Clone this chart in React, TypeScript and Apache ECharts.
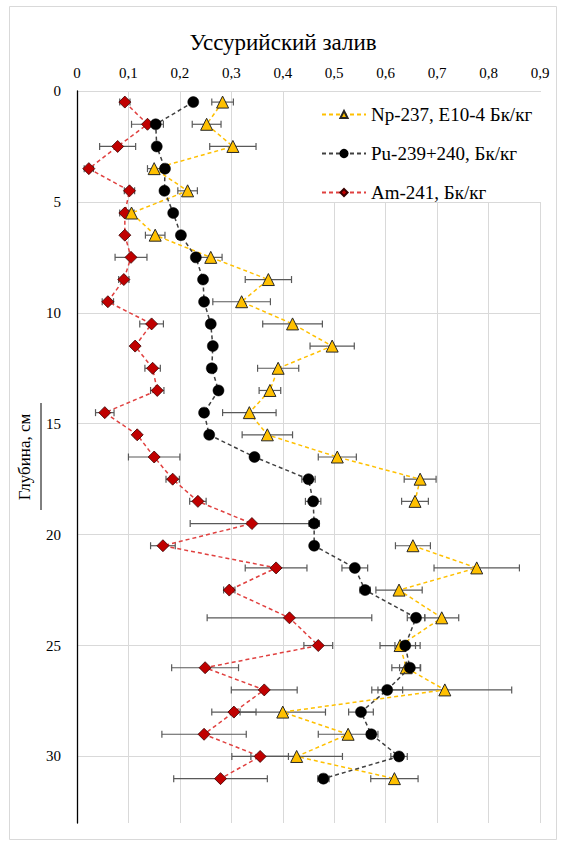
import React, { useEffect, useRef } from "react";
import * as echarts from "echarts";

const depths = [0.5, 1.5, 2.5, 3.5, 4.5, 5.5, 6.5, 7.5, 8.5, 9.5, 10.5, 11.5, 12.5, 13.5, 14.5, 15.5, 16.5, 17.5, 18.5, 19.5, 20.5, 21.5, 22.5, 23.75, 25, 26, 27, 28, 29, 30, 31];

const npValues = [0.283, 0.252, 0.303, 0.15, 0.215, 0.106, 0.152, 0.26, 0.372, 0.32, 0.419, 0.496, 0.391, 0.375, 0.335, 0.37, 0.506, 0.667, 0.657, null, 0.653, 0.777, 0.626, 0.709, 0.628, 0.64, 0.715, 0.4, 0.527, 0.427, 0.617];
const npErrors = [0.021, 0.028, 0.045, 0.013, 0.019, 0.005, 0.019, 0.022, 0.045, 0.056, 0.058, 0.043, 0.04, 0.021, 0.052, 0.049, 0.037, 0.031, 0.026, null, 0.034, 0.083, 0.045, 0.033, 0.039, 0.028, 0.13, 0.083, 0.058, 0.089, 0.046];

const puValues = [0.226, 0.153, 0.155, 0.171, 0.17, 0.187, 0.202, 0.231, 0.245, 0.247, 0.26, 0.264, 0.262, 0.275, 0.247, 0.257, 0.345, 0.45, 0.459, 0.461, 0.461, 0.54, 0.56, 0.659, 0.638, 0.647, 0.603, 0.552, 0.572, 0.626, 0.479];
const puErrors = [0.004, 0.004, 0.004, 0.004, 0.004, 0.004, 0.004, 0.004, 0.004, 0.004, 0.007, 0.006, 0.008, 0.006, 0.004, 0.006, 0.006, 0.013, 0.015, 0.01, 0.006, 0.025, 0.01, 0.017, 0.02, 0.02, 0.03, 0.024, 0.008, 0.016, 0.011];

const amValues = [0.093, 0.137, 0.079, 0.023, 0.102, 0.093, 0.093, 0.105, 0.091, 0.06, 0.145, 0.113, 0.147, 0.156, 0.054, 0.117, 0.15, 0.186, 0.235, 0.34, 0.167, 0.387, 0.296, 0.413, 0.469, 0.249, 0.364, 0.305, 0.247, 0.356, 0.279];
const amErrors = [0.01, 0.031, 0.035, 0.009, 0.01, 0.01, 0.003, 0.031, 0.01, 0.011, 0.023, 0.003, 0.015, 0.013, 0.018, 0.005, 0.05, 0.013, 0.016, 0.12, 0.024, 0.06, 0.011, 0.16, 0.028, 0.065, 0.064, 0.043, 0.082, 0.055, 0.091];

const seriesNames = ["Np-237, E10-4 Бк/кг", "Pu-239+240, Бк/кг", "Am-241, Бк/кг"];
const titleText = "Уссурийский залив";
const yAxisName = "Глубина, см";

const FONT = "'Liberation Serif', 'Times New Roman', serif";

function lineData(values: (number | null)[]) {
  return depths.map((d, i) => [values[i] == null ? "-" : values[i], d]);
}
function errData(values: (number | null)[], errs: (number | null)[]) {
  return depths.map((d, i) => [values[i] == null ? "-" : values[i], errs[i] == null ? 0 : errs[i], d]);
}

function errorSeries(name: string, values: (number | null)[], errs: (number | null)[]) {
  return {
    type: "custom",
    name,
    z: 1,
    silent: true,
    encode: { x: 0, y: 2 },
    data: errData(values, errs),
    renderItem: (params: any, api: any) => {
      const x = api.value(0);
      const e = api.value(1);
      const y = api.value(2);
      if (x == null || isNaN(x) || !e) return null;
      const p1 = api.coord([x - e, y]);
      const p2 = api.coord([x + e, y]);
      const h = 3.5;
      const st = { stroke: "#595959", lineWidth: 1.2 };
      return {
        type: "group",
        children: [
          { type: "line", shape: { x1: p1[0], y1: p1[1], x2: p2[0], y2: p2[1] }, style: st },
          { type: "line", shape: { x1: p1[0], y1: p1[1] - h, x2: p1[0], y2: p1[1] + h }, style: st },
          { type: "line", shape: { x1: p2[0], y1: p2[1] - h, x2: p2[0], y2: p2[1] + h }, style: st },
        ],
      };
    },
  };
}

export default function App() {
  const ref = useRef<HTMLDivElement>(null);
  useEffect(() => {
    if (!ref.current) return;
    const chart = echarts.init(ref.current, null, { renderer: "svg" });
    chart.setOption({
      animation: false,
      textStyle: { fontFamily: FONT },
      title: {
        text: titleText,
        left: "center",
        top: 26,
        textStyle: { fontSize: 23, fontWeight: "normal", color: "#000", fontFamily: FONT },
      },
      grid: { left: 77, top: 91, right: 26, bottom: 19 },
      legend: {
        orient: "vertical",
        left: 316,
        top: 99,
        itemWidth: 44,
        itemHeight: 9,
        itemGap: 18,
        selectedMode: false,
        textStyle: { fontSize: 19, color: "#000", fontFamily: FONT, lineHeight: 21 },
        data: seriesNames,
      },
      graphic: [
        {
          type: "rect",
          shape: { x: 9.5, y: 6.5, width: 547, height: 833 },
          style: { fill: "none", stroke: "#d9d9d9", lineWidth: 1 },
          silent: true,
        },
        {
          type: "rect",
          z: 3,
          shape: { x: 314, y: 92, width: 227, height: 110 },
          style: { fill: "#fff" },
          silent: true,
        },
        {
          type: "line",
          shape: { x1: 41, y1: 403, x2: 41, y2: 510 },
          style: { stroke: "#000", lineWidth: 1 },
          silent: true,
        },
      ],
      xAxis: {
        type: "value",
        position: "top",
        min: 0,
        max: 0.9,
        interval: 0.1,
        axisLine: { show: false },
        axisTick: { show: false },
        axisLabel: {
          margin: 11,
          fontSize: 15,
          color: "#000",
          fontFamily: FONT,
          formatter: (v: number) => (Math.round(v * 10) / 10).toString().replace(".", ","),
        },
        splitLine: { show: true, lineStyle: { color: "#d9d9d9", width: 1 } },
      },
      yAxis: {
        type: "value",
        inverse: true,
        min: 0,
        max: 33,
        interval: 5,
        name: yAxisName,
        nameLocation: "middle",
        nameRotate: 90,
        nameGap: 44,
        nameTextStyle: { fontSize: 17, color: "#000", fontFamily: FONT },
        axisLine: { show: true, lineStyle: { color: "#000", width: 1.3 } },
        axisTick: { show: false },
        axisLabel: { margin: 16, fontSize: 15, color: "#000", fontFamily: FONT, showMaxLabel: false },
        splitLine: { show: true, showMaxLine: false, lineStyle: { color: "#d9d9d9", width: 1 } },
      },
      series: [
        errorSeries("amErr", amValues, amErrors),
        errorSeries("npErr", npValues, npErrors),
        errorSeries("puErr", puValues, puErrors),
        {
          type: "line",
          name: seriesNames[2],
          z: 2,
          data: lineData(amValues),
          symbol: "diamond",
          symbolSize: 12,
          showSymbol: true,
          itemStyle: { color: "#C00000", borderColor: "#3a0000", borderWidth: 0.8 },
          lineStyle: { color: "#E0403F", width: 1.5, type: [4, 3] },
        },
        {
          type: "line",
          name: seriesNames[0],
          z: 3,
          data: lineData(npValues),
          symbol: "triangle",
          symbolSize: 12,
          showSymbol: true,
          connectNulls: false,
          itemStyle: { color: "#FFC000", borderColor: "#262626", borderWidth: 1 },
          lineStyle: { color: "#FFC000", width: 1.5, type: [4, 3] },
        },
        {
          type: "line",
          name: seriesNames[1],
          z: 4,
          data: lineData(puValues),
          symbol: "circle",
          symbolSize: 11,
          showSymbol: true,
          itemStyle: { color: "#000", borderColor: "#000", borderWidth: 0.5 },
          lineStyle: { color: "#404040", width: 1.5, type: [4, 3] },
        },
      ],
    });
    return () => chart.dispose();
  }, []);
  return (
    <div
      ref={ref}
      style={{ position: "absolute", left: 0, top: 0, width: 566, height: 842, background: "#fff" }}
    />
  );
}
